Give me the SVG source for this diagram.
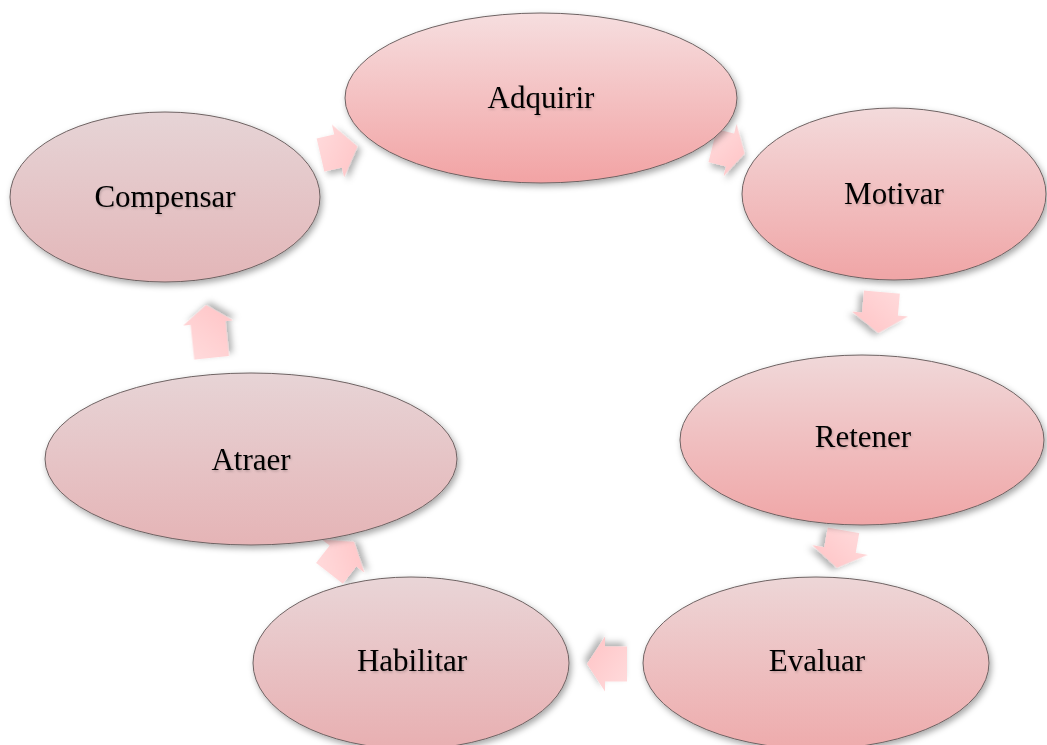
<svg xmlns="http://www.w3.org/2000/svg" width="1047" height="745" viewBox="0 0 1047 745">
<defs>
<linearGradient id="gA" x1="0" y1="0" x2="0" y2="1"><stop offset="0" stop-color="#f6dedf"/><stop offset="1" stop-color="#f2a3a4"/></linearGradient>
<linearGradient id="gM" x1="0" y1="0" x2="0" y2="1"><stop offset="0" stop-color="#f3dadb"/><stop offset="1" stop-color="#f0a5a6"/></linearGradient>
<linearGradient id="gR" x1="0" y1="0" x2="0" y2="1"><stop offset="0" stop-color="#f0d8d9"/><stop offset="1" stop-color="#f0a6a7"/></linearGradient>
<linearGradient id="gE" x1="0" y1="0" x2="0" y2="1"><stop offset="0" stop-color="#edd6d7"/><stop offset="1" stop-color="#eeabac"/></linearGradient>
<linearGradient id="gH" x1="0" y1="0" x2="0" y2="1"><stop offset="0" stop-color="#e9d5d7"/><stop offset="1" stop-color="#e8afb1"/></linearGradient>
<linearGradient id="gT" x1="0" y1="0" x2="0" y2="1"><stop offset="0" stop-color="#e7d4d6"/><stop offset="1" stop-color="#e5b4b6"/></linearGradient>
<linearGradient id="gC" x1="0" y1="0" x2="0" y2="1"><stop offset="0" stop-color="#e6d4d6"/><stop offset="1" stop-color="#e3b6b8"/></linearGradient>
<linearGradient id="gArr" x1="0" y1="0" x2="1" y2="1"><stop offset="0" stop-color="#ffdcdd"/><stop offset="1" stop-color="#ffc3c5"/></linearGradient>
<filter id="sh" x="-10%" y="-10%" width="125%" height="130%"><feDropShadow dx="2" dy="3" stdDeviation="3" flood-color="#000" flood-opacity="0.35"/></filter>
<filter id="ash" x="-40%" y="-40%" width="190%" height="190%"><feDropShadow dx="3" dy="4" stdDeviation="3" flood-color="#000" flood-opacity="0.3"/></filter>
<filter id="tsh" x="-10%" y="-20%" width="130%" height="150%"><feDropShadow dx="1" dy="1.5" stdDeviation="1" flood-color="#000" flood-opacity="0.2"/></filter>
</defs>
<style>
.node ellipse{stroke:#6e6262;stroke-width:1;filter:url(#sh)}
.node text{font-family:"Liberation Serif","Times New Roman",serif;font-size:31px;fill:#000;text-anchor:middle;filter:url(#tsh)}
.arr{fill:url(#gArr);filter:url(#ash)}
</style>
<g id="connectors">
<polygon class="arr" transform="translate(338,151) rotate(-13)" points="-18,-17 0,-17 0,-27 20,0 0,27 0,17 -18,17"/>
<polygon class="arr" transform="translate(730,150) rotate(14)" points="-18,-17 0,-17 0,-27 15,0 0,27 0,17 -18,17"/>
<polygon class="arr" transform="translate(880,314) rotate(95)" points="-22,-18 0,-18 0,-28 19,0 0,28 0,18 -22,18"/>
<polygon class="arr" transform="translate(840,550) rotate(100)" points="-20,-16 0,-16 0,-28 18,0 0,28 0,16 -20,16"/>
<polygon class="arr" transform="translate(605,664) rotate(180)" points="-22,-17.5 0,-17.5 0,-27.5 18,0 0,27.5 0,17.5 -22,17.5"/>
<polygon class="arr" transform="translate(343,556) rotate(-52)" points="-22,-17 0,-17 0,-27 18,0 0,27 0,17 -22,17"/>
<polygon class="arr" transform="translate(208,323) rotate(-96)" points="-35,-17.5 0,-17.5 0,-25 18,0 0,25 0,17.5 -35,17.5"/>
</g>
<g id="adquirir" class="node"><ellipse cx="541" cy="98" rx="196" ry="85" fill="url(#gA)"/><text x="541" y="108">Adquirir</text></g>
<g id="motivar" class="node"><ellipse cx="894" cy="194" rx="152" ry="86" fill="url(#gM)"/><text x="894" y="204">Motivar</text></g>
<g id="retener" class="node"><ellipse cx="862" cy="440" rx="182" ry="85" fill="url(#gR)"/><text x="863" y="447">Retener</text></g>
<g id="evaluar" class="node"><ellipse cx="816" cy="663" rx="173" ry="86" fill="url(#gE)"/><text x="817" y="671">Evaluar</text></g>
<g id="habilitar" class="node"><ellipse cx="411" cy="663" rx="158" ry="86" fill="url(#gH)"/><text x="412" y="671">Habilitar</text></g>
<g id="atraer" class="node"><ellipse cx="251" cy="459" rx="206" ry="86" fill="url(#gT)"/><text x="251" y="470">Atraer</text></g>
<g id="compensar" class="node"><ellipse cx="165" cy="197" rx="155" ry="85" fill="url(#gC)"/><text x="165" y="207">Compensar</text></g>
</svg>
